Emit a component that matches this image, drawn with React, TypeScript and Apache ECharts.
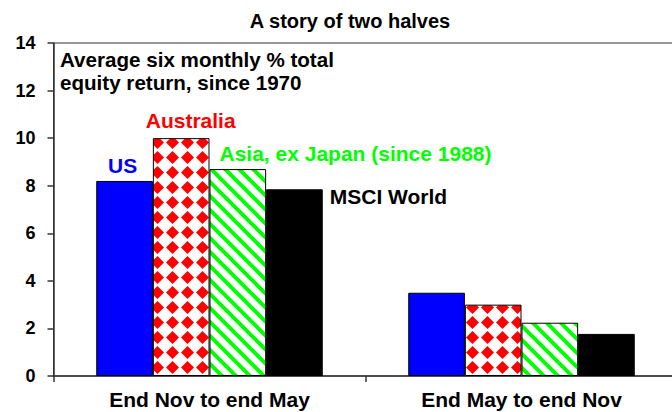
import React, { useEffect, useRef } from 'react';
import * as echarts from 'echarts';

const titleText = 'A story of two halves';
const noteText = 'Average six monthly % total\nequity return, since 1970';
const categories = ['End Nov to end May', 'End May to end Nov'];
const seriesNames = ['US', 'Australia', 'Asia, ex Japan (since 1988)', 'MSCI World'];
const usValues = [8.2, 3.5];
const australiaValues = [10.0, 3.0];
const asiaValues = [8.7, 2.24];
const msciValues = [7.85, 1.77];
const yMin = 0;
const yMax = 14;
const yStep = 2;

const FONT = '"Liberation Sans", Arial, Helvetica, sans-serif';

function diamondPattern(): any {
  const s = 15;
  const c = document.createElement('canvas');
  c.width = s;
  c.height = s;
  const ctx = c.getContext('2d')!;
  ctx.fillStyle = '#ffffff';
  ctx.fillRect(0, 0, s, s);
  ctx.fillStyle = '#ff0000';
  ctx.beginPath();
  ctx.moveTo(7.5, 1.0);
  ctx.lineTo(14.0, 7.5);
  ctx.lineTo(7.5, 14.0);
  ctx.lineTo(1.0, 7.5);
  ctx.closePath();
  ctx.fill();
  return { image: c, repeat: 'repeat', imageWidth: s, imageHeight: s };
}

function stripePattern(): any {
  const p = 14;
  const c = document.createElement('canvas');
  c.width = p;
  c.height = p;
  const ctx = c.getContext('2d')!;
  ctx.fillStyle = '#ffffff';
  ctx.fillRect(0, 0, p, p);
  ctx.strokeStyle = '#00ff00';
  ctx.lineWidth = 4;
  for (const k of [-1, 0, 1]) {
    ctx.beginPath();
    ctx.moveTo(k * p - 2, -2);
    ctx.lineTo(k * p + p + 2, p + 2);
    ctx.stroke();
  }
  return { image: c, repeat: 'repeat', imageWidth: p, imageHeight: p };
}

export default function App() {
  const ref = useRef<HTMLDivElement>(null);
  useEffect(() => {
    if (!ref.current) return;
    const chart = echarts.init(ref.current, null, { renderer: 'svg' });
    const fills = ['#0000ff', diamondPattern(), stripePattern(), '#000000'];
    const labelColors = ['#0000ff', '#ff0000', '#00ff00', '#000000'];
    const labelAligns = ['center', 'center', 'left', 'left'];
    const labelOffsets = [[-2, -15], [9.5, -18], [-18.3, -16], [35.3, 7.5]];
    const values = [usValues, australiaValues, asiaValues, msciValues];
    const series = seriesNames.map((name, i) => ({
      name,
      type: 'bar',
      silent: true,
      barGap: '0%',
      barCategoryGap: '27.4%',
      itemStyle: { color: fills[i], borderColor: '#000', borderWidth: 1 },
      data: values[i].map((v, j) =>
        j === 0
          ? {
              value: v,
              label: {
                show: true,
                formatter: name,
                position: 'top',
                distance: 0,
                align: labelAligns[i],
                verticalAlign: 'middle',
                offset: labelOffsets[i],
                color: labelColors[i],
                fontFamily: FONT,
                fontWeight: 'bold',
                fontSize: 21,
              },
            }
          : { value: v }
      ),
    }));
    chart.setOption({
      animation: false,
      backgroundColor: '#fff',
      title: {
        text: titleText,
        left: 350,
        top: 11,
        textAlign: 'center',
        padding: 0,
        textStyle: { fontFamily: FONT, fontWeight: 'bold', fontSize: 20, color: '#000', lineHeight: 20 },
      },
      graphic: [
        {
          type: 'text',
          left: 60,
          top: 47.5,
          silent: true,
          style: {
            text: noteText,
            font: `bold 20.6px ${FONT}`,
            lineHeight: 23,
            fill: '#000',
          },
        },
      ],
      grid: {
        left: 53.5,
        top: 43,
        width: 624,
        height: 333,
        outerBoundsMode: 'none',
        containLabel: false,
        show: true,
        borderColor: '#333',
        borderWidth: 1,
        backgroundColor: 'transparent',
      },
      xAxis: {
        type: 'category',
        data: categories,
        axisLine: { lineStyle: { color: '#333', width: 1.5 } },
        axisTick: { show: true, length: 6, lineStyle: { color: '#333', width: 1.5 } },
        axisLabel: { fontFamily: FONT, fontWeight: 'bold', fontSize: 21, color: '#000', margin: 13 },
      },
      yAxis: {
        type: 'value',
        min: yMin,
        max: yMax,
        interval: yStep,
        splitLine: { show: false },
        axisLine: { show: true, lineStyle: { color: '#333', width: 1.5 } },
        axisTick: { show: true, length: 6, lineStyle: { color: '#333', width: 1.5 } },
        axisLabel: { fontFamily: FONT, fontWeight: 'bold', fontSize: 18, color: '#000', margin: 18 },
      },
      series,
    });
    return () => chart.dispose();
  }, []);
  return (
    <div
      ref={ref}
      style={{ position: 'absolute', left: 0, top: 0, width: 672, height: 412 }}
    />
  );
}
